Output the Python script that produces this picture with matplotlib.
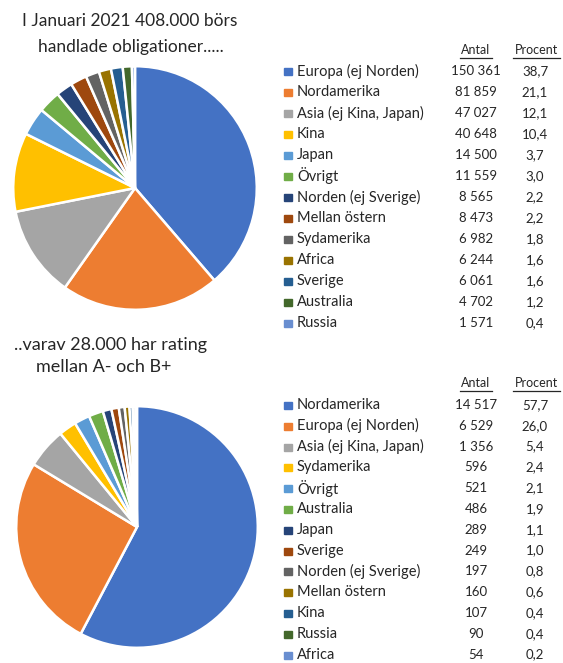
import matplotlib.pyplot as plt
from matplotlib.patches import Rectangle
from matplotlib.lines import Line2D

plt.rcParams['font.family'] = ['Lato', 'DejaVu Sans']

colors = ['#4472C4', '#ED7D31', '#A5A5A5', '#FFC000', '#5B9BD5', '#70AD47',
          '#264478', '#9E480E', '#636363', '#997300', '#255E91', '#43682B', '#698ED0']

# all traded bonds, Jan 2021
regions_all = ['Europa (ej Norden)', 'Nordamerika', 'Asia (ej Kina, Japan)', 'Kina', 'Japan',
               'Övrigt', 'Norden (ej Sverige)', 'Mellan östern', 'Sydamerika', 'Africa',
               'Sverige', 'Australia', 'Russia']
antal_all = [150361, 81859, 47027, 40648, 14500, 11559, 8565, 8473, 6982, 6244, 6061, 4702, 1571]
antal_all_txt = ['150 361', '81 859', '47 027', '40 648', '14 500', '11 559', '8 565', '8 473',
                 '6 982', '6 244', '6 061', '4 702', '1 571']
pct_all = ['38,7', '21,1', '12,1', '10,4', '3,7', '3,0', '2,2', '2,2', '1,8', '1,6', '1,6', '1,2', '0,4']

# rated A- to B+
regions_rated = ['Nordamerika', 'Europa (ej Norden)', 'Asia (ej Kina, Japan)', 'Sydamerika', 'Övrigt',
                 'Australia', 'Japan', 'Sverige', 'Norden (ej Sverige)', 'Mellan östern',
                 'Kina', 'Russia', 'Africa']
antal_rated = [14517, 6529, 1356, 596, 521, 486, 289, 249, 197, 160, 107, 90, 54]
antal_rated_txt = ['14 517', '6 529', '1 356', '596', '521', '486', '289', '249', '197', '160',
                   '107', '90', '54']
pct_rated = ['57,7', '26,0', '5,4', '2,4', '2,1', '1,9', '1,1', '1,0', '0,8', '0,6', '0,4', '0,4', '0,2']

W, H = 563, 663
fig = plt.figure(figsize=(W / 100, H / 100), dpi=100)
TXT = '#262626'


def fx(x):
    return x / W


def fy(y):
    return 1 - y / H


def draw_pie(cx, cy, r, values):
    ax = fig.add_axes([fx(cx - r), fy(cy + r), 2 * r / W, 2 * r / H])
    ax.pie(values, colors=colors, startangle=90, counterclock=False,
           wedgeprops=dict(edgecolor='white', linewidth=1.8))
    ax.set_aspect('equal')
    ax.set_xlim(-1.01, 1.01)
    ax.set_ylim(-1.01, 1.01)
    ax.axis('off')


def draw_table(y_head, y0, dy, names, nums, pcts):
    for label, x, w in [('Antal', 476, 33), ('Procent', 536, 47)]:
        fig.text(fx(x), fy(y_head), label, ha='center', va='center', fontsize=9, color=TXT)
        fig.add_artist(Line2D([fx(x - w / 2), fx(x + w / 2)], [fy(y_head + 8), fy(y_head + 8)],
                              color=TXT, lw=0.9))
    for i, (name, n, p) in enumerate(zip(names, nums, pcts)):
        y = y0 + i * dy
        fig.add_artist(Rectangle((fx(284), fy(y + 4)), 8 / W, 7 / H, color=colors[i]))
        fig.text(fx(297), fy(y), name, ha='left', va='center', fontsize=10.5, color=TXT)
        fig.text(fx(476), fy(y), n, ha='center', va='center', fontsize=9.5, color=TXT)
        fig.text(fx(535), fy(y), p, ha='center', va='center', fontsize=9.5, color=TXT)


fig.text(fx(130), fy(21), 'I Januari 2021 408.000 börs', ha='center', va='center', fontsize=12.5, color=TXT)
fig.text(fx(131), fy(47), 'handlade obligationer.....', ha='center', va='center', fontsize=12.5, color=TXT)
draw_pie(135, 188, 123, antal_all)
draw_table(50, 71, 21, regions_all, antal_all_txt, pct_all)

fig.text(fx(110), fy(345), '..varav 28.000 har rating', ha='center', va='center', fontsize=13, color=TXT)
fig.text(fx(104), fy(367), 'mellan A- och B+', ha='center', va='center', fontsize=13, color=TXT)
draw_pie(137, 527, 122, antal_rated)
draw_table(383, 405, 20.8, regions_rated, antal_rated_txt, pct_rated)

fig.savefig('out.png', dpi=100, facecolor='white')
